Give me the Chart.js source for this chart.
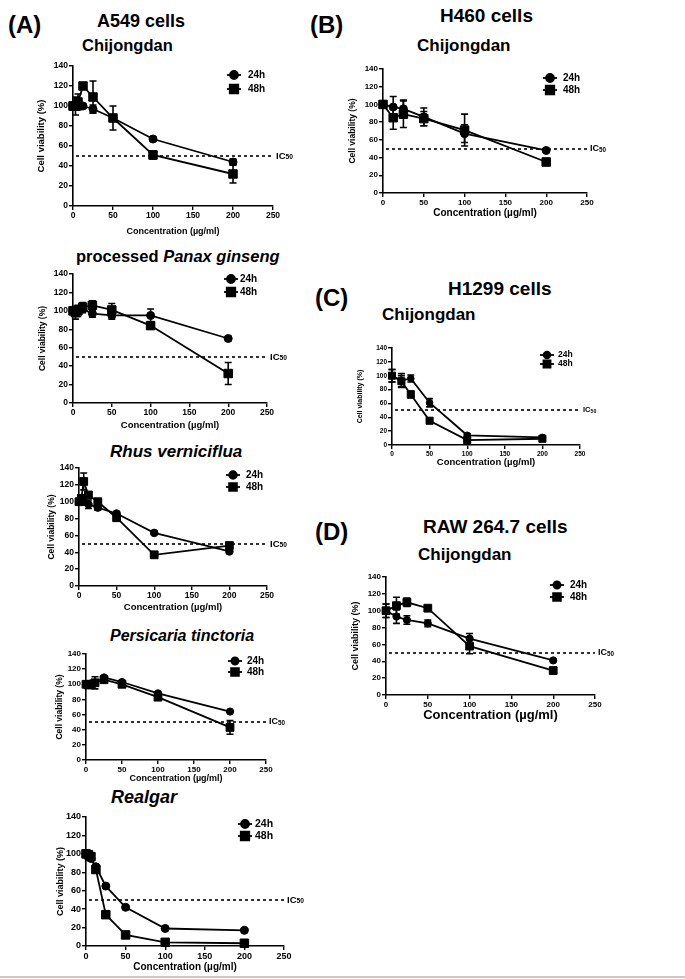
<!DOCTYPE html>
<html><head><meta charset="utf-8">
<script src="https://cdn.jsdelivr.net/npm/chart.js@4"></script>
<style>
html,body{margin:0;padding:0;background:#fff;}
body{width:685px;height:979px;position:relative;overflow:hidden;font-family:"Liberation Sans",Arial,sans-serif;}
.t{position:absolute;white-space:nowrap;font-weight:bold;line-height:1;color:#000;}
canvas{position:absolute;}
#bl{position:absolute;left:0;top:976px;width:685px;height:2px;background:#c8c8c8;}
</style></head><body>
<div id="bl"></div>
<script>
// ---------- data ----------
const seriesLabels = ['24h', '48h'];
const xTicks = [0, 50, 100, 150, 200, 250];
const yTicks = [0, 20, 40, 60, 80, 100, 120, 140];
const concA = [0, 3.125, 6.25, 12.5, 25, 50, 100, 200];
const concB = [0, 12.5, 25, 50, 100, 200];

const a549Chi24 = [100, 101, 102, 100, 97, 88, 67, 44];
const a549Chi24Err = [3, 3, 4, 2, 4, 3, 2, 3];
const a549Chi48 = [100, 100, 104, 120, 109, 88, 51, 32];
const a549Chi48Err = [4, 9, 8, 3, 16, 12, 4, 9];

const a549Pan24 = [100, 100, 101, 102, 97, 95, 95, 70];
const a549Pan24Err = [3, 3, 4, 4, 4, 4, 7, 2];
const a549Pan48 = [100, 98, 100, 104, 106, 101, 84, 32];
const a549Pan48Err = [4, 7, 6, 5, 5, 7, 3, 12];

const a549Rhus24 = [100, 100, 100, 97, 93, 86, 63, 41];
const a549Rhus24Err = [2, 2, 3, 5, 3, 2, 1, 2];
const a549Rhus48 = [100, 104, 124, 108, 100, 81, 37, 48];
const a549Rhus48Err = [3, 4, 10, 3, 3, 3, 2, 2];

const a549Per24 = [100, 100, 101, 102, 109, 103, 88, 64];
const a549Per24Err = [2, 2, 2, 3, 2, 2, 2, 1];
const a549Per48 = [100, 99, 100, 102, 106, 100, 83, 43];
const a549Per48Err = [3, 3, 4, 8, 2, 4, 4, 9];

const a549Rea24 = [100, 99, 95, 86, 65, 42, 19, 17];
const a549Rea24Err = [1, 1, 2, 2, 1, 1, 1, 1];
const a549Rea48 = [100, 99, 97, 83, 34, 12, 4, 3];
const a549Rea48Err = [1, 1, 2, 3, 2, 1, 1, 1];

const h460Chi24 = [100, 97, 95, 86, 67, 48];
const h460Chi24Err = [3, 12, 10, 10, 10, 1];
const h460Chi48 = [100, 85, 89, 84, 71, 35];
const h460Chi48Err = [3, 13, 15, 8, 18, 4];

const h1299Chi24 = [100, 93, 96, 61, 14, 11];
const h1299Chi24Err = [9, 10, 5, 6, 2, 1];
const h1299Chi48 = [100, 92, 73, 35, 7, 9];
const h1299Chi48Err = [9, 8, 5, 2, 2, 1];

const rawChi24 = [100, 93, 89, 85, 67, 41];
const rawChi24Err = [8, 8, 5, 4, 6, 1];
const rawChi48 = [100, 106, 110, 103, 58, 29];
const rawChi48Err = [8, 10, 5, 2, 9, 1];

const xTitle = 'Concentration (\u00b5g/ml)';
const yTitle = 'Cell viability (%)';

// ---------- headings (layout) ----------
const headings = [
  {html:'(A)', x:8, base:33, size:24},
  {html:'A549 cells', x:97, base:27, size:18},
  {html:'Chijongdan', x:82, base:51, size:16.5},
  {html:'(B)', x:310, base:33, size:24},
  {html:'H460 cells', x:440, base:22, size:19},
  {html:'Chijongdan', x:417, base:51, size:17},
  {html:'processed <i>Panax ginseng</i>', x:76, base:262, size:16.5},
  {html:'<i>Rhus verniciflua</i>', x:110, base:457, size:17},
  {html:'<i>Persicaria tinctoria</i>', x:110, base:642, size:16},
  {html:'<i>Realgar</i>', x:111, base:803, size:18},
  {html:'(C)', x:315, base:306, size:24},
  {html:'H1299 cells', x:448, base:295, size:19},
  {html:'Chijongdan', x:382, base:320, size:17},
  {html:'(D)', x:315, base:540, size:24},
  {html:'RAW 264.7 cells', x:423, base:533, size:19},
  {html:'Chijongdan', x:418, base:560, size:17}
];
headings.forEach(h=>{
  const d=document.createElement('div');
  d.className='t'; d.innerHTML=h.html;
  d.style.fontSize=h.size+'px';
  d.style.left=h.x+'px';
  d.style.top=(h.base-0.8465*h.size)+'px';
  document.body.appendChild(d);
});

// ---------- panels (layout) ----------
const panels = [
  {conc:concA, s24:a549Chi24, e24:a549Chi24Err, s48:a549Chi48, e48:a549Chi48Err,
   area:[73,66,273,206], yT:42, xT:232, fs:{tick:8.5,yt:9.5,xt:9,lg:10,ic:9.5}, lg:{mx:234,y1:75,y2:89,tx:248}, mk:{c:4,r:6}},
  {conc:concA, s24:a549Pan24, e24:a549Pan24Err, s48:a549Pan48, e48:a549Pan48Err,
   area:[73,274,267,403], yT:43, xT:425, fs:{tick:8.5,yt:8.5,xt:9.5,lg:10,ic:9.5}, lg:{mx:231,y1:279,y2:292,tx:240}, mk:{c:4,r:6}},
  {conc:concA, s24:a549Rhus24, e24:a549Rhus24Err, s48:a549Rhus48, e48:a549Rhus48Err,
   area:[79,468,267,586], yT:52, xT:607, fs:{tick:8.5,yt:8.5,xt:9.5,lg:10,ic:9.5}, lg:{mx:233,y1:475,y2:487,tx:246}, mk:{c:3.8,r:5.5}},
  {conc:concA, s24:a549Per24, e24:a549Per24Err, s48:a549Per48, e48:a549Per48Err,
   area:[86,654,266,760], yT:60, xT:779, fs:{tick:8,yt:8.5,xt:9,lg:10,ic:9}, lg:{mx:235,y1:661,y2:672,tx:247}, mk:{c:3.6,r:5.5}},
  {conc:concA, s24:a549Rea24, e24:a549Rea24Err, s48:a549Rea48, e48:a549Rea48Err,
   area:[86,817,284,946], yT:60, xT:967, fs:{tick:9,yt:9,xt:10,lg:10.5,ic:9.5}, lg:{mx:245,y1:824,y2:836,tx:255}, mk:{c:4,r:6}},
  {conc:concB, s24:h460Chi24, e24:h460Chi24Err, s48:h460Chi48, e48:h460Chi48Err,
   area:[383,69,587,193], yT:353, xT:213, fs:{tick:8,yt:8.5,xt:10,lg:10,ic:9}, lg:{mx:550,y1:78,y2:90,tx:563}, mk:{c:4,r:6}},
  {conc:concB, s24:h1299Chi24, e24:h1299Chi24Err, s48:h1299Chi48, e48:h1299Chi48Err,
   area:[392,348,580,445], yT:360, xT:462, fs:{tick:6.5,yt:7,xt:9.5,lg:8.5,ic:7.5}, lg:{mx:547,y1:355,y2:364,tx:558}, mk:{c:3.3,r:5}},
  {conc:concB, s24:rawChi24, e24:rawChi24Err, s48:rawChi48, e48:rawChi48Err,
   area:[386,577,595,695], yT:355, xT:715, fs:{tick:8,yt:9,xt:13,lg:10,ic:9}, lg:{mx:557,y1:585,y2:597,tx:570}, mk:{c:3.6,r:5.5}}
];

// ---------- plugins ----------
const FF = '"Liberation Sans", Arial, sans-serif';
Chart.defaults.font.family = FF;
Chart.defaults.color = '#000';

const errPlugin = {
  id:'errbars',
  afterDatasetsDraw(chart){
    const ctx = chart.ctx, ys = chart.scales.y;
    chart.data.datasets.forEach((ds,i)=>{
      const meta = chart.getDatasetMeta(i);
      ctx.save(); ctx.strokeStyle='#000'; ctx.lineWidth=1.6;
      meta.data.forEach((pt,j)=>{
        const e = ds.errors[j]; if(!e) return;
        const v = ds.data[j].y;
        const y1 = ys.getPixelForValue(v+e), y2 = ys.getPixelForValue(v-e);
        ctx.beginPath();
        ctx.moveTo(pt.x,y1); ctx.lineTo(pt.x,y2);
        ctx.moveTo(pt.x-3.5,y1); ctx.lineTo(pt.x+3.5,y1);
        ctx.moveTo(pt.x-3.5,y2); ctx.lineTo(pt.x+3.5,y2);
        ctx.stroke();
      });
      ctx.restore();
    });
  }
};

const icPlugin = {
  id:'ic50',
  beforeDatasetsDraw(chart, args, o){
    const ctx = chart.ctx, a = chart.chartArea, y = chart.scales.y;
    const py = Math.round(y.getPixelForValue(50));
    ctx.save();
    ctx.strokeStyle='#000'; ctx.lineWidth=1.6; ctx.setLineDash([3,3]);
    ctx.beginPath(); ctx.moveTo(a.left+3, py); ctx.lineTo(a.right, py); ctx.stroke();
    ctx.setLineDash([]);
    ctx.fillStyle='#000'; ctx.textBaseline='middle'; ctx.textAlign='left';
    ctx.font = 'bold '+o.size+'px '+FF;
    const tx = a.right+3;
    ctx.fillText('IC', tx, py);
    const w = ctx.measureText('IC').width;
    ctx.font = 'bold '+(o.size*0.7)+'px '+FF;
    ctx.fillText('50', tx+w, py+1.5);
    ctx.restore();
  }
};

const legendPlugin = {
  id:'lgd',
  afterDraw(chart, args, o){
    const ctx = chart.ctx;
    const items = [[o.y1,'circle',o.c],[o.y2,'rect',o.r]];
    items.forEach((it,i)=>{
      const [y,st,rad] = it;
      ctx.save();
      ctx.strokeStyle='#000'; ctx.fillStyle='#000'; ctx.lineWidth=1.8;
      ctx.beginPath(); ctx.moveTo(o.mx-7,y); ctx.lineTo(o.mx+7,y); ctx.stroke();
      Chart.helpers.drawPoint(ctx,{pointStyle:st, radius:rad, rotation:0, borderWidth:1}, o.mx, y);
      ctx.font='bold '+o.size+'px '+FF; ctx.textBaseline='middle'; ctx.textAlign='left';
      ctx.fillText(chart.data.datasets[i].label, o.tx, y);
      ctx.restore();
    });
  }
};

function buildChart(p){
  const [l,t,r,b] = p.area;
  const lhY = p.fs.yt*1.2, lhX = p.fs.xt*1.2;
  const Wy = Math.round(l - (p.yT - lhY/2));
  const Hx = Math.round(p.xT + lhX/2 - b);
  const T = 12, R = 34;
  const cl = l - Wy, ct = t - T;
  const cw = (r-l) + Wy + R, ch = (b-t) + T + Hx;
  const cv = document.createElement('canvas');
  cv.width=cw; cv.height=ch;
  cv.style.left=cl+'px'; cv.style.top=ct+'px';
  cv.style.width=cw+'px'; cv.style.height=ch+'px';
  document.body.appendChild(cv);
  const pts = (xs, ys)=> xs.map((x,i)=>({x:x, y:ys[i]}));
  const tickFont = {size:p.fs.tick, weight:'bold'};
  const common = {borderColor:'#000', backgroundColor:'#000', pointBackgroundColor:'#000', pointBorderColor:'#000',
                  borderWidth:1.8, pointBorderWidth:1, tension:0, clip:false, fill:false};
  new Chart(cv, {
    type:'line',
    data:{datasets:[
      Object.assign({label:seriesLabels[0], data:pts(p.conc,p.s24), errors:p.e24, pointStyle:'circle', pointRadius:p.mk.c}, common),
      Object.assign({label:seriesLabels[1], data:pts(p.conc,p.s48), errors:p.e48, pointStyle:'rect', pointRadius:p.mk.r}, common)
    ]},
    options:{
      responsive:false, animation:false, devicePixelRatio:1,
      events:[],
      layout:{padding:{left:0, top:T, right:R, bottom:0}},
      plugins:{
        legend:{display:false}, tooltip:{enabled:false},
        ic50:{size:p.fs.ic},
        lgd:{mx:p.lg.mx-cl, y1:p.lg.y1-ct, y2:p.lg.y2-ct, tx:p.lg.tx-cl, size:p.fs.lg, c:p.mk.c, r:p.mk.r}
      },
      scales:{
        x:{type:'linear', min:0, max:250,
           afterBuildTicks:s=>{s.ticks = xTicks.map(v=>({value:v}));},
           afterFit:s=>{s.height = Hx;},
           grid:{display:true, drawOnChartArea:false, drawTicks:true, tickLength:4, color:'#000', lineWidth:1.4},
           border:{display:true, color:'#000', width:1.6},
           ticks:{font:tickFont, color:'#000', padding:1, maxRotation:0},
           title:{display:true, text:xTitle, font:{size:p.fs.xt, weight:'bold'}, color:'#000', padding:0}},
        y:{type:'linear', min:0, max:140,
           afterBuildTicks:s=>{s.ticks = yTicks.map(v=>({value:v}));},
           afterFit:s=>{s.width = Wy;},
           grid:{display:true, drawOnChartArea:false, drawTicks:true, tickLength:4, color:'#000', lineWidth:1.4},
           border:{display:true, color:'#000', width:1.6},
           ticks:{font:tickFont, color:'#000', padding:1},
           title:{display:true, text:yTitle, font:{size:p.fs.yt, weight:'bold'}, color:'#000', padding:0}}
      }
    },
    plugins:[icPlugin, errPlugin, legendPlugin]
  });
}
panels.forEach(buildChart);
</script>
</body></html>
